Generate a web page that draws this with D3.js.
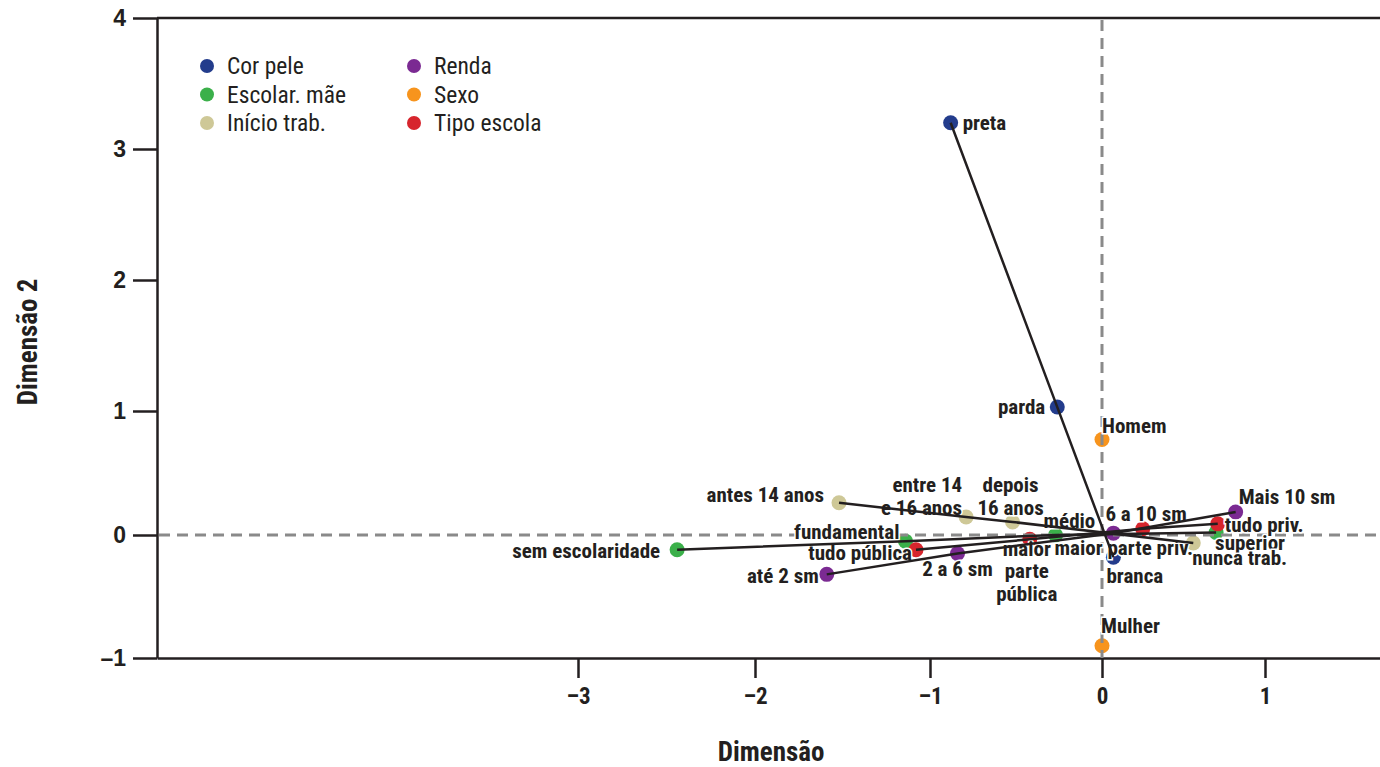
<!DOCTYPE html>
<html lang="pt">
<head>
<meta charset="UTF-8">
<title>Dimensão</title>
<script src="https://d3js.org/d3.v7.min.js"></script>
<style>
  body { margin: 0; background: #fff; }
  .axis path, .axis line { stroke: #231f20; stroke-width: 2.5; }
  .y-axis text { font-family: "Liberation Sans", Arial, sans-serif; font-weight: bold; font-size: 23px; fill: #231f20; }
  .x-axis text { font-family: "Roboto Condensed", "Open Sans", sans-serif; font-weight: bold; font-size: 23px; fill: #231f20; }
  .ref { stroke: #8a8a8a; stroke-width: 3; stroke-dasharray: 11 7; }
  .profile { stroke: #231f20; stroke-width: 2.5; fill: none; }
  .pt-label { font-family: "Roboto Condensed", "Open Sans", sans-serif; font-weight: bold; font-size: 21px; fill: #231f20;
              stroke: #fff; stroke-width: 3; paint-order: stroke; }
  .legend text { font-family: "Roboto Condensed", "Open Sans", sans-serif; font-size: 23.5px; fill: #231f20; }
  .title { font-family: "Roboto Condensed", "Open Sans", sans-serif; font-weight: bold; font-size: 27px; fill: #231f20; }
</style>
</head>
<body>
<div id="chart"></div>
<script>
// Variables (legend order) and colours
const groups = ["Cor pele", "Escolar. mãe", "Início trab.", "Renda", "Sexo", "Tipo escola"];
const groupColors = ["#233c8c", "#3bb04a", "#cec897", "#7b2a92", "#f7941d", "#d7252d"];

// Category coordinates (Dimensão 1, Dimensão 2)
const corPeleCats = ["preta", "parda", "branca"];
const corPeleDim1 = [-0.88, -0.26, 0.07];
const corPeleDim2 = [3.2, 1.03, -0.18];

const escolarCats = ["sem escolaridade", "fundamental", "médio", "superior"];
const escolarDim1 = [-2.44, -1.14, -0.27, 0.70];
const escolarDim2 = [-0.12, -0.05, 0.0, 0.02];

const inicioCats = ["antes 14 anos", "entre 14\ne 16 anos", "depois\n16 anos", "nunca trab."];
const inicioDim1 = [-1.52, -0.79, -0.52, 0.56];
const inicioDim2 = [0.26, 0.145, 0.105, -0.065];

const rendaCats = ["até 2 sm", "2 a 6 sm", "6 a 10 sm", "Mais 10 sm"];
const rendaDim1 = [-1.59, -0.84, 0.07, 0.82];
const rendaDim2 = [-0.32, -0.15, 0.015, 0.185];

const sexoCats = ["Homem", "Mulher"];
const sexoDim1 = [0.0, 0.0];
const sexoDim2 = [0.77, -0.90];

const escolaCats = ["tudo pública", "maior\nparte\npública", "maior parte priv.", "tudo priv."];
const escolaDim1 = [-1.08, -0.42, 0.25, 0.71];
const escolaDim2 = [-0.12, -0.035, 0.05, 0.09];

// profile lines are drawn for these variables
const connected = ["Cor pele", "Escolar. mãe", "Início trab.", "Renda", "Tipo escola"];

// Axis ticks
const xTicks = [-3, -2, -1, 0, 1];
const yTicks = [-1, 0, 1, 2, 3, 4];

// Label placement: [text-anchor, dx, dy] relative to the point
const labelPos = {
  "preta": ["start", 12, 0], "parda": ["end", -12, 0], "branca": ["start", -7, 19],
  "sem escolaridade": ["end", -17, 1], "fundamental": ["end", -6, -10], "médio": ["start", -12, -14],
  "superior": ["start", -1, 10],
  "antes 14 anos": ["end", -15, -8], "entre 14\ne 16 anos": ["end", -4, -32], "depois\n16 anos": ["middle", -2, -37],
  "nunca trab.": ["start", -1, 15],
  "até 2 sm": ["end", -8, 1], "2 a 6 sm": ["middle", 0, 15], "6 a 10 sm": ["start", -8, -19],
  "Mais 10 sm": ["start", 3, -15],
  "Homem": ["start", 0, -14], "Mulher": ["start", -1, -20],
  "tudo pública": ["end", -4, 3], "maior\nparte\npública": ["middle", -3, 9],
  "maior parte priv.": ["middle", -19, 19], "tudo priv.": ["start", 7, 1]
};

const table = [
  [corPeleCats, corPeleDim1, corPeleDim2],
  [escolarCats, escolarDim1, escolarDim2],
  [inicioCats, inicioDim1, inicioDim2],
  [rendaCats, rendaDim1, rendaDim2],
  [sexoCats, sexoDim1, sexoDim2],
  [escolaCats, escolaDim1, escolaDim2]
].map(([cats, d1, d2], gi) => ({
  group: groups[gi],
  color: groupColors[gi],
  points: cats.map((c, i) => ({ name: c, x: d1[i], y: d2[i] }))
}));

const width = 1380, height = 767;
const plot = { left: 157, right: 1380, top: 18, bottom: 658 };

const svg = d3.select("#chart").append("svg")
  .attr("width", width).attr("height", height);

// Scales (tick spacing in the original is slightly uneven, so use piecewise domains)
const x = d3.scaleLinear()
  .domain([-5.38, -3, -2, -1, 0, 1, 1.705])
  .range([plot.left, 578, 755, 930, 1102, 1265, plot.right]);
const y = d3.scaleLinear()
  .domain([-1, 0, 1, 2, 3, 4])
  .range([plot.bottom, 535, 411, 280, 149, plot.top]);

const fmt = d => d < 0 ? "\u2013" + Math.abs(d) : String(d);

// Axes
svg.append("g")
  .attr("class", "axis y-axis")
  .attr("transform", `translate(${plot.left},0)`)
  .call(d3.axisLeft(y).tickValues(yTicks).tickFormat(fmt).tickSize(24).tickSizeOuter(0).tickPadding(7));

svg.append("g")
  .attr("class", "axis x-axis")
  .attr("transform", `translate(0,${plot.bottom})`)
  .call(d3.axisBottom(x).tickValues(xTicks).tickFormat(fmt).tickSize(20).tickSizeOuter(0).tickPadding(10));

// top frame line
svg.append("line")
  .attr("x1", plot.left).attr("x2", plot.right)
  .attr("y1", y(4)).attr("y2", y(4))
  .style("stroke", "#231f20").style("stroke-width", 2.5);

// Dots
const gPts = svg.append("g");
table.forEach(g => {
  gPts.selectAll(null)
    .data(g.points)
    .enter().append("circle")
    .attr("cx", d => x(d.x))
    .attr("cy", d => y(d.y))
    .attr("r", 7.5)
    .attr("fill", g.color);
});

// Reference lines at zero
svg.append("line").attr("class", "ref")
  .attr("x1", plot.left + 2).attr("x2", plot.right)
  .attr("y1", y(0)).attr("y2", y(0));
svg.append("line").attr("class", "ref")
  .attr("x1", x(0)).attr("x2", x(0))
  .attr("y1", plot.top + 2).attr("y2", plot.bottom);

// Point labels
const gLab = svg.append("g");
table.forEach(g => {
  g.points.forEach(p => {
    const [anchor, dx, dy] = labelPos[p.name];
    const lines = p.name.split("\n");
    const t = gLab.append("text")
      .attr("class", "pt-label")
      .attr("text-anchor", anchor)
      .attr("x", x(p.x) + dx)
      .attr("y", y(p.y) + dy);
    lines.forEach((ln, i) => {
      t.append("tspan")
        .attr("x", x(p.x) + dx)
        .attr("dy", i === 0 ? "0.35em" : "1.08em")
        .text(ln);
    });
  });
});

// Profile lines
const line = d3.line().x(d => x(d.x)).y(d => y(d.y));
svg.append("g").selectAll("path")
  .data(table.filter(g => connected.includes(g.group)))
  .enter().append("path")
  .attr("class", "profile")
  .attr("d", d => line(d.points));

// Legend
const legend = svg.append("g").attr("class", "legend");
groups.forEach((name, i) => {
  const col = Math.floor(i / 3), row = i % 3;
  const lx = 207 + col * 207, ly = 66 + row * 28.5;
  legend.append("circle").attr("cx", lx).attr("cy", ly).attr("r", 7).attr("fill", groupColors[i]);
  legend.append("text").attr("x", lx + 20).attr("y", ly).attr("dy", "0.35em").text(name);
});

// Axis titles
svg.append("text").attr("class", "title")
  .attr("x", 771).attr("y", 752).attr("dy", "0.35em")
  .attr("text-anchor", "middle").text("Dimensão");
svg.append("text").attr("class", "title")
  .attr("transform", "translate(28,342) rotate(-90)")
  .attr("dy", "0.35em")
  .attr("text-anchor", "middle").text("Dimensão 2");
</script>
</body>
</html>
